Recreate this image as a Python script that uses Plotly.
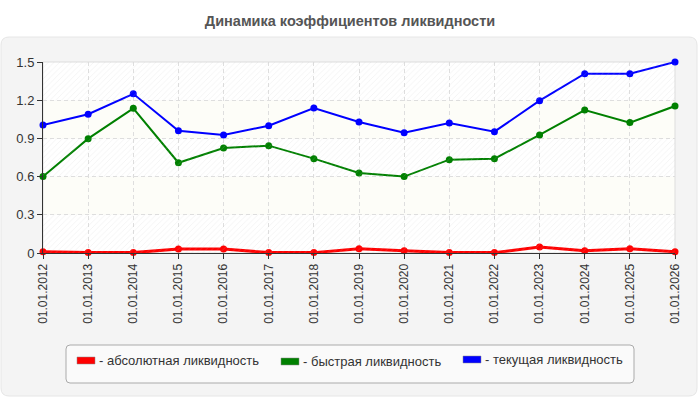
import plotly.graph_objects as go

# Data
dates = ["01.01.%d" % y for y in range(2012, 2027)]
absolute = [0.01, 0.003, 0.003, 0.031, 0.031, 0.003, 0.003, 0.034, 0.018, 0.003, 0.003, 0.047, 0.018, 0.034, 0.01]
quick = [0.60, 0.898, 1.136, 0.709, 0.825, 0.843, 0.741, 0.628, 0.60, 0.733, 0.741, 0.927, 1.123, 1.024, 1.154]
current = [1.005, 1.09, 1.25, 0.96, 0.927, 1.0, 1.139, 1.029, 0.945, 1.021, 0.953, 1.196, 1.408, 1.408, 1.5]

series_names = ["- абсолютная ликвидность", "- быстрая ликвидность", "- текущая ликвидность"]
series_colors = ["#ff0000", "#008000", "#0000ff"]

W, H = 700, 400
L, R, T, B = 43, 25, 62, 147
PW, PH = W - L - R, H - T - B


def px_x(px):
    return (px - L) / PW


def px_y(py):
    return (H - B - py) / PH


def rounded_path(xa, xb, ya, yb, r):
    # xa..xb, ya..yb in pixels (ya top, yb bottom)
    x0, x1 = px_x(xa), px_x(xb)
    y0, y1 = px_y(yb), px_y(ya)
    rx, ry = r / PW, r / PH
    return (f"M {x0 + rx},{y1} L {x1 - rx},{y1} Q {x1},{y1} {x1},{y1 - ry} "
            f"L {x1},{y0 + ry} Q {x1},{y0} {x1 - rx},{y0} L {x0 + rx},{y0} "
            f"Q {x0},{y0} {x0},{y0 + ry} L {x0},{y1 - ry} Q {x0},{y1} {x0 + rx},{y1} Z")


fig = go.Figure()

# grey rounded panel behind everything
fig.add_shape(type="path", xref="paper", yref="paper", path=rounded_path(1, 697, 37, 396, 8),
              fillcolor="#f4f4f4", line=dict(color="#e6e6e6", width=1), layer="below")

# background bands: hatched (white + pattern) / plain (pale yellow)
bands = [(0, 0.3, True), (0.3, 0.6, False), (0.6, 0.9, True), (0.9, 1.2, False), (1.2, 1.5, True)]
for y0, y1, hatched in bands:
    fig.add_shape(type="rect", xref="paper", yref="y", x0=0, x1=1, y0=y0, y1=y1,
                  fillcolor="#ffffff" if hatched else "#fdfdf8", line_width=0, layer="below")
    if hatched:
        fig.add_trace(go.Scatter(
            x=[0, 1, 1, 0, 0], y=[y0, y0, y1, y1, y0], xaxis="x2",
            mode="lines", fill="toself", line=dict(width=0),
            fillcolor="rgba(0,0,0,0)",
            fillpattern=dict(shape="/", fgcolor="rgba(200,200,200,0.45)",
                             bgcolor="rgba(0,0,0,0)", size=4, solidity=0.2),
            hoverinfo="skip", showlegend=False,
        ))

# plot-area border (top/right light line)
fig.add_shape(type="rect", xref="paper", yref="paper", x0=0, x1=1, y0=0, y1=1,
              line=dict(color="#dddddd", width=1), fillcolor="rgba(0,0,0,0)", layer="below")

for vals, name, col, lw in zip([absolute, quick, current], series_names, series_colors, [3, 2, 2]):
    fig.add_trace(go.Scatter(
        x=dates, y=vals, mode="lines+markers", name=name,
        line=dict(color=col, width=lw),
        marker=dict(color=col, size=7),
        showlegend=False,
        cliponaxis=False,
    ))

# legend box
fig.add_shape(type="path", xref="paper", yref="paper", path=rounded_path(66, 634, 345, 383, 4),
              fillcolor="#fafafa", line=dict(color="#aaaaaa", width=1))

swatch_x = [77, 281, 463]
text_y = [360.5, 361.5, 359.5]
for sx, ty, name, col in zip(swatch_x, text_y, series_names, series_colors):
    fig.add_shape(type="rect", xref="paper", yref="paper",
                  x0=px_x(sx), x1=px_x(sx + 18), y0=px_y(ty + 3.5), y1=px_y(ty - 3.5),
                  fillcolor=col, line=dict(color="#888888", width=0.5))
    fig.add_annotation(xref="paper", yref="paper", x=px_x(sx + 20), y=px_y(ty),
                       text=name, showarrow=False, xanchor="left", yanchor="middle",
                       font=dict(family="Liberation Sans, Arial", size=13, color="#333333"))

fig.update_layout(
    width=W, height=H,
    margin=dict(l=L, r=R, t=T, b=B),
    paper_bgcolor="white",
    plot_bgcolor="rgba(0,0,0,0)",
    title=dict(text="<b>Динамика коэффициентов ликвидности</b>", x=0.5, xref="container",
               xanchor="center", y=1 - 20.5 / H, yanchor="middle",
               font=dict(family="Liberation Sans, Arial", size=14.5, color="#555555")),
    font=dict(family="Liberation Sans, Arial", size=12, color="#333333"),
    xaxis=dict(
        type="category", range=[0, len(dates) - 1],
        tickangle=-90, ticks="outside", ticklen=5, tickcolor="#333333",
        showline=True, linecolor="#333333", linewidth=1,
        showgrid=True, gridcolor="#dedede", griddash="4px,3px", gridwidth=1,
        tickfont=dict(size=12, color="#333333"),
    ),
    xaxis2=dict(overlaying="x", range=[0, 1], visible=False),
    yaxis=dict(
        range=[0, 1.5], dtick=0.3, tick0=0,
        ticks="outside", ticklen=5, tickcolor="#333333",
        showline=True, linecolor="#333333", linewidth=1,
        showgrid=True, gridcolor="#dedede", griddash="4px,3px", gridwidth=1,
        zeroline=False,
        tickfont=dict(size=13, color="#333333"),
    ),
)

fig.write_html("out.html", config={"displayModeBar": False},
               post_script="document.body.style.margin='0';")
